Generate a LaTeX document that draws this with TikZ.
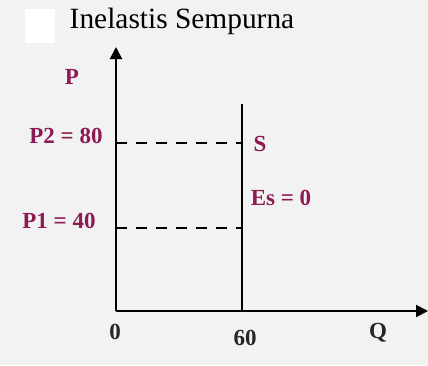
\documentclass[tikz,border=0pt]{standalone}
\usepackage{fontspec}
\setmainfont{Liberation Serif}
\usepackage{tikz}
\usetikzlibrary{arrows.meta,positioning}

\definecolor{lblcol}{HTML}{8E1A55}
\definecolor{bgcol}{HTML}{F2F2F2}

\begin{document}
\begin{tikzpicture}[
  x=0.5pt, y=-0.5pt,
  >={Triangle[length=6pt,width=6pt]},
  lbl/.style={text=lblcol, font=\fontsize{11.5}{12}\selectfont\bfseries, inner sep=1pt},
  title/.style={font=\fontsize{14.7}{16}\selectfont, inner sep=1pt},
  axis/.style={->, line width=1pt},
  curve/.style={line width=0.9pt},
  guide/.style={line width=0.8pt, dash pattern=on 5.5pt off 4.5pt},
]
% background and frame
\fill[bgcol] (0,0) rectangle (428,365);
\useasboundingbox (0,0) rectangle (428,365);
\fill[white] (25,9) rectangle (55,43);

% points
\coordinate (O) at (116,311);
\coordinate (ytip) at (116,47);
\coordinate (xtip) at (428,311);
\coordinate (stop) at (242,104);
\coordinate (sbot) at (242,311);
\coordinate (p2) at (116,143);
\coordinate (p2s) at (242,143);
\coordinate (p1) at (116,228);
\coordinate (p1s) at (242,228);

\node[title] (ttl) at (182,21) {Inelastis Sempurna};

% axes
\draw[axis] (O) -- (ytip);
\draw[axis] (O) -- (xtip);

% supply curve
\draw[curve] (sbot) -- (stop);
\draw[guide] (p2) -- (p2s);
\draw[guide] (p1) -- (p1s);

% labels
\node[lbl] (plbl) at (72,77) {P};
\node[lbl, anchor=east] (p2lbl) at (105,136) {P2 = 80};
\node[lbl, anchor=east] (p1lbl) at (98,221) {P1 = 40};
\node[lbl] (slbl) at (260,144) {S};
\node[lbl] (eslbl) at (281,198) {Es = 0};
\node[lbl, text=black!85] (zero) at (115,332) {0};
\node[lbl, text=black!85] (sixty) at (245,338) {60};
\node[lbl, text=black!85] (qlbl) at (378,333) {Q};
\end{tikzpicture}
\end{document}
